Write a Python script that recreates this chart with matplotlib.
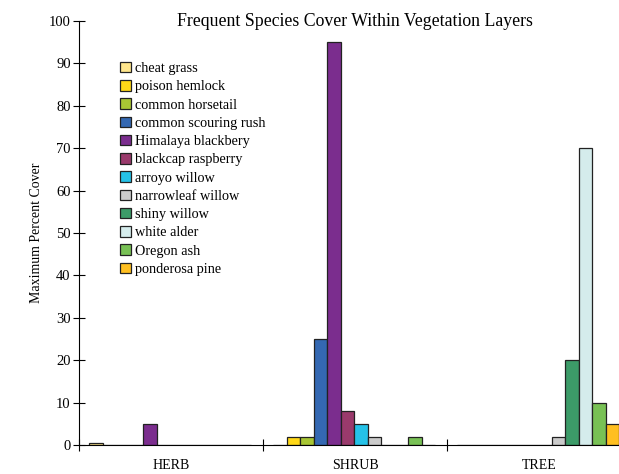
import matplotlib.pyplot as plt
import numpy as np

plt.rcParams['font.family'] = ['Liberation Serif', 'DejaVu Serif']

layers = ["HERB", "SHRUB", "TREE"]
species = ["cheat grass", "poison hemlock", "common horsetail", "common scouring rush",
           "Himalaya blackbery", "blackcap raspberry", "arroyo willow", "narrowleaf willow",
           "shiny willow", "white alder", "Oregon ash", "ponderosa pine"]
colors = ["#FFE68C", "#FFD817", "#A8C634", "#3468B2", "#7B2D8E", "#9A3A6C",
          "#25C2E8", "#CBCBCB", "#3C9B68", "#D5ECEC", "#78C155", "#FFBF20"]

# max percent cover per species, values for HERB, SHRUB, TREE
cover = {
    "cheat grass": [0.5, 0, 0],
    "poison hemlock": [0, 2, 0],
    "common horsetail": [0, 2, 0],
    "common scouring rush": [0, 25, 0],
    "Himalaya blackbery": [5, 95, 0],
    "blackcap raspberry": [0, 8, 0],
    "arroyo willow": [0, 5, 0],
    "narrowleaf willow": [0, 2, 2],
    "shiny willow": [0, 0, 20],
    "white alder": [0, 0, 70],
    "Oregon ash": [0, 2, 10],
    "ponderosa pine": [0, 0, 5],
}

fig = plt.figure(figsize=(6.19, 4.74), dpi=100)
ax = fig.add_axes([79 / 619, 29 / 474, 552 / 619, 424 / 474])

n = len(species)
bw = 0.0734
off = 0.056
x = np.arange(len(layers))
for i, sp in enumerate(species):
    ax.bar(x + off + i * bw, cover[sp], width=bw, align="edge", color=colors[i],
           edgecolor="#222222", linewidth=0.9, label=sp)

ax.set_xlim(0, 3)
ax.set_ylim(0, 100)
ax.set_yticks(range(0, 101, 10))
ax.set_xticks([0, 1, 2, 3])
ax.set_xticklabels([])
ax.set_xticks(x + 0.5, minor=True)
ax.set_xticklabels(layers, minor=True)
ax.tick_params(axis="x", which="minor", length=0, pad=10, labelsize=10)
ax.tick_params(axis="x", which="major", direction="inout", length=8, width=0.8)
ax.tick_params(axis="y", direction="inout", length=8, width=0.8, labelsize=10.5, pad=2)
for s in ["top", "right"]:
    ax.spines[s].set_visible(False)
for s in ["left", "bottom"]:
    ax.spines[s].set_linewidth(0.8)

ax.set_ylabel("Maximum Percent Cover", fontsize=10, labelpad=4)
fig.text(355 / 619, 1 - 21 / 474, "Frequent Species Cover Within Vegetation Layers",
         ha="center", va="center", fontsize=12.8)

ax.legend(loc="upper left", bbox_to_anchor=(120 / 619, 1 - 62 / 474),
          bbox_transform=fig.transFigure, frameon=False, fontsize=10.3,
          handlelength=0.75, handleheight=0.75, handletextpad=0.3,
          labelspacing=0.35, borderpad=0, borderaxespad=0)

fig.savefig("out.png", dpi=100)
